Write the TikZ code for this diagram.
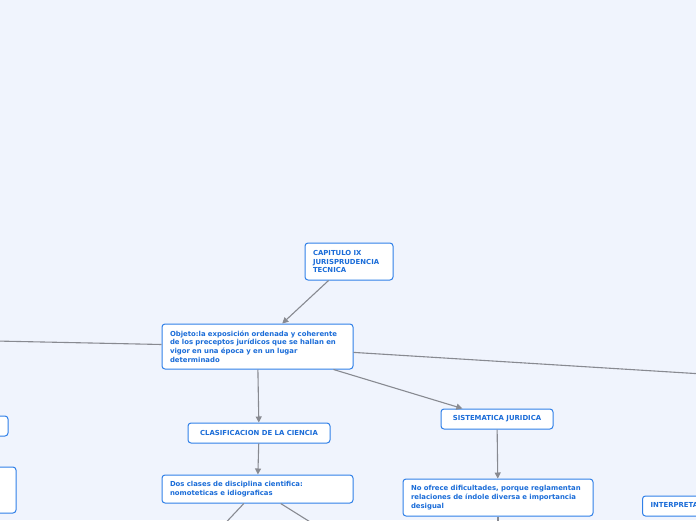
\documentclass[tikz,border=0pt]{standalone}
\usepackage{fontspec}
\setmainfont{DejaVu Sans}
\usetikzlibrary{arrows.meta}
\definecolor{bgblue}{RGB}{240,244,253}
\definecolor{boxline}{RGB}{48,128,232}
\definecolor{boxtext}{RGB}{26,108,216}
\definecolor{linkgray}{RGB}{136,138,145}
\begin{document}
\begin{tikzpicture}[x=1pt,y=-1pt,
  topic/.style={draw=boxline,line width=1pt,fill=white,rounded corners=3pt,
    text=boxtext,font=\bfseries\fontsize{6.9}{8.7}\selectfont,align=left,
    inner sep=0pt},
  link/.style={draw=linkgray,line width=1.1pt,-{Triangle[length=6pt,width=6pt]}}]
\useasboundingbox (0,0) rectangle (696,520);
\fill[bgblue] (0,0) rectangle (696,520);
\clip (0,0) rectangle (696,520);
% topics
\node[topic,minimum width=88pt,minimum height=37pt,text width=72pt] (cap) at (349,261.5)
  {CAPITULO IX\\JURISPRUDENCIA\\TECNICA};
\node[topic,minimum width=191pt,minimum height=45pt,text width=175pt] (obj) at (257.5,346.5)
  {Objeto:la exposición ordenada y coherente\\de los preceptos jurídicos que se hallan en\\vigor en una época y en un lugar\\determinado};
\node[topic,minimum width=142pt,minimum height=20pt,align=center] (clas) at (259,433)
  {CLASIFICACION DE LA CIENCIA};
\node[topic,minimum width=191pt,minimum height=28pt,text width=175pt] (dos) at (257.5,489)
  {Dos clases de disciplina cientifica:\\nomoteticas e idiograficas};
\node[topic,minimum width=112pt,minimum height=20pt,align=center] (sist) at (497,419)
  {SISTEMATICA JURIDICA};
\node[topic,minimum width=190pt,minimum height=37pt,text width=174pt] (nof) at (498,497.5)
  {No ofrece dificultades, porque reglamentan\\relaciones de índole diversa e importancia\\desigual};
\node[topic,minimum height=20pt,anchor=west,inner xsep=8pt] (interp) at (642,506)
  {INTERPRETACION JURIDICA};
\node[topic,minimum width=80pt,minimum height=20pt] (izq1) at (-32,426) {};
\node[topic,minimum width=90pt,minimum height=46pt] (izq2) at (-29,490) {};
% free ends
\coordinate (lft) at (-100,339);
\coordinate (rgt) at (800,380);
\coordinate (dl) at (200,550);
\coordinate (dr) at (355,550);
\coordinate (nd) at (498,560);
% links
\draw[link] (cap) -- (obj);
\draw[link] (obj) -- (lft);
\draw[link] (obj) -- (rgt);
\draw[link] (obj) -- (clas);
\draw[link] (obj) -- (sist);
\draw[link] (clas) -- (dos);
\draw[link] (sist) -- (nof);
\draw[link] (dos) -- (dl);
\draw[link] (dos) -- (dr);
\draw[link] (nof) -- (nd);
\end{tikzpicture}
\end{document}
